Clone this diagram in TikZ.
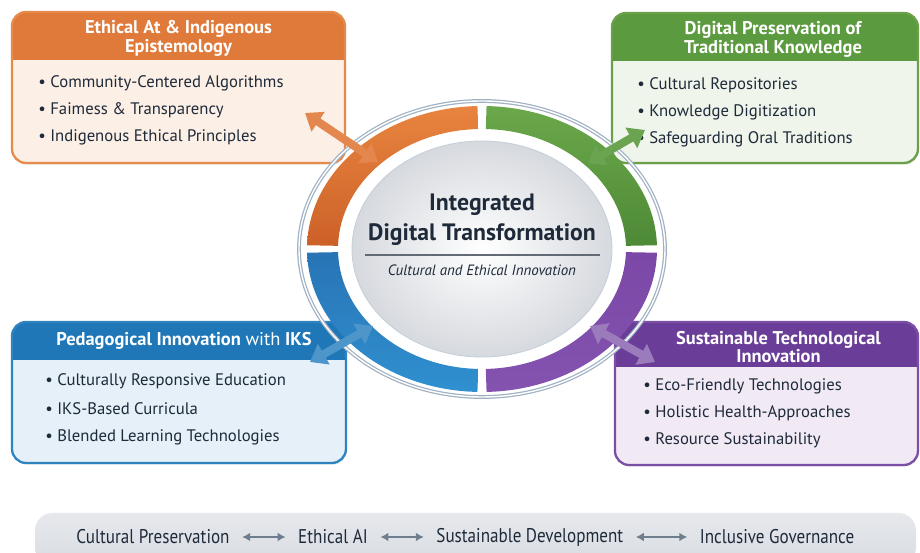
\documentclass[tikz,border=0pt]{standalone}
\usepackage{fontspec}
\setmainfont{PT Sans}
\newfontfamily\barfont[FakeStretch=0.86]{PT Sans}
\usetikzlibrary{positioning,calc,arrows.meta,shadows}

\definecolor{ink}{HTML}{1E2A3A}
\definecolor{orghd}{HTML}{E07A3A}
\definecolor{orgbg}{HTML}{FCEFE5}
\definecolor{orgln}{HTML}{E58A4A}
\definecolor{grnhd}{HTML}{5B9A3E}
\definecolor{grnbg}{HTML}{EFF5EA}
\definecolor{grnln}{HTML}{6AA04A}
\definecolor{bluhd}{HTML}{1F77B7}
\definecolor{blubg}{HTML}{E6F0F8}
\definecolor{bluln}{HTML}{2F84C0}
\definecolor{purhd}{HTML}{6A3E98}
\definecolor{purbg}{HTML}{F1EAF4}
\definecolor{purln}{HTML}{7A4FA5}
\definecolor{ringln}{HTML}{9FB0C2}
\definecolor{disc}{HTML}{D6D9DE}
\definecolor{barhi}{HTML}{E6E8EC}
\definecolor{barlo}{HTML}{D8DCE1}
\definecolor{barar}{HTML}{6F7E8E}

\begin{document}
\begin{tikzpicture}[x=0.02cm, y=0.02cm, text=ink,
    font=\fontsize{9.5}{11}\selectfont,
    panel/.style={rounded corners=8pt, outer sep=0pt, inner sep=0pt,
      anchor=north west,
      drop shadow={opacity=0.18, shadow xshift=0.6pt, shadow yshift=-1pt}},
    frame/.style={draw=#1, line width=1.3pt, rounded corners=8pt},
    title/.style={text=white, align=center,
      font=\bfseries\fontsize{10.5}{10.8}\selectfont},
    item/.style={anchor=west, inner sep=0pt},
    link/.style={draw=#1, line width=4.6pt,
      {Triangle[width=13pt,length=9pt]}-{Triangle[width=13pt,length=9pt]}},
    bar/.style={inner sep=0pt, font=\barfont\fontsize{11.3}{13}\selectfont,
      text=ink},
    bararrow/.style={draw=barar, line width=1.2pt, shorten <=7pt,
      shorten >=7pt, {Latex[length=4.5pt,width=5pt]}-{Latex[length=4.5pt,width=5pt]}},
    node distance=1.36cm]
  \useasboundingbox (0,0) rectangle (920,553);

  % --- the four panels ---
  \node[panel, fill=orgbg, minimum width=6.66cm, minimum height=3.02cm]
    (eth) at (12,541) {};
  \begin{scope}
    \clip[rounded corners=8pt] (eth.south west) rectangle (eth.north east);
    \fill[orghd] (eth.north west) rectangle ($(eth.north east)+(0,-48)$);
  \end{scope}
  \draw[frame=orgln] (eth.south west) rectangle (eth.north east);
  \node[title] (eth-t) at ($(eth.north)+(0,-26)$)
    {Ethical At \& Indigenous\\Epistemology};
  \node[item] (eth-1) at (38,470) {\textbullet\ Community-Centered Algorithms};
  \node[item, below=0.54cm of eth-1.west, anchor=west] (eth-2)
    {\textbullet\ Faimess \& Transparency};
  \node[item, below=0.54cm of eth-2.west, anchor=west] (eth-3)
    {\textbullet\ Indigenous Ethical Principles};

  \node[panel, fill=grnbg, minimum width=6.12cm, minimum height=3.0cm]
    (pres) at (612,540) {};
  \begin{scope}
    \clip[rounded corners=8pt] (pres.south west) rectangle (pres.north east);
    \fill[grnhd] (pres.north west) rectangle ($(pres.north east)+(0,-48)$);
  \end{scope}
  \draw[frame=grnln] (pres.south west) rectangle (pres.north east);
  \node[title] (pres-t) at ($(pres.north)+(8,-26)$)
    {Digital Preservation of\\Traditional Knowledge};
  \node[item] (pres-1) at (637,468) {\textbullet\ Cultural Repositories};
  \node[item, below=0.54cm of pres-1.west, anchor=west] (pres-2)
    {\textbullet\ Knowledge Digitization};
  \node[item, below=0.54cm of pres-2.west, anchor=west] (pres-3)
    {\textbullet\ Safeguarding Oral Traditions};

  \node[panel, fill=blubg, minimum width=6.68cm, minimum height=2.82cm]
    (ped) at (12,231) {};
  \begin{scope}
    \clip[rounded corners=8pt] (ped.south west) rectangle (ped.north east);
    \fill[bluhd] (ped.north west) rectangle ($(ped.north east)+(0,-38)$);
  \end{scope}
  \draw[frame=bluln] (ped.south west) rectangle (ped.north east);
  \node[title] (ped-t) at ($(ped.north)+(5,-19)$)
    {Pedagogical Innovation {\mdseries with} IKS};
  \node[item] (ped-1) at (45,172) {\textbullet\ Culturally Responsive Education};
  \node[item, below=0.56cm of ped-1.west, anchor=west] (ped-2)
    {\textbullet\ IKS-Based Curricula};
  \node[item, below=0.56cm of ped-2.west, anchor=west] (ped-3)
    {\textbullet\ Blended Learning Technologies};

  \node[panel, fill=purbg, minimum width=6.06cm, minimum height=2.86cm]
    (sus) at (615,231) {};
  \begin{scope}
    \clip[rounded corners=8pt] (sus.south west) rectangle (sus.north east);
    \fill[purhd] (sus.north west) rectangle ($(sus.north east)+(0,-45)$);
  \end{scope}
  \draw[frame=purln] (sus.south west) rectangle (sus.north east);
  \node[title, font=\bfseries\fontsize{10.5}{9.5}\selectfont] (sus-t)
    at ($(sus.north)+(12,-25)$) {Sustainable Technological\\Innovation};
  \node[item] (sus-1) at (643,167) {\textbullet\ Eco-Friendly Technologies};
  \node[item, below=0.54cm of sus-1.west, anchor=west] (sus-2)
    {\textbullet\ Holistic Health-Approaches};
  \node[item, below=0.54cm of sus-2.west, anchor=west] (sus-3)
    {\textbullet\ Resource Sustainability};

  % --- central ring ---
  \coordinate (c) at (482,304);
  \draw[draw=ringln, line width=0.7pt, double=white, double distance=0.8pt]
    (c) ellipse[x radius=183, y radius=148];
  \foreach \a/\b/\hi/\lo in {91.5/178.5/E8843F/CC6128,
      1.5/88.5/6BA84B/4E8A36,
      181.5/268.5/2874B5/3090D0,
      271.5/358.5/7B48A7/8452AF} {
    \definecolor{seghi}{HTML}{\hi}
    \definecolor{seglo}{HTML}{\lo}
    \shade[top color=seghi, bottom color=seglo]
      ($(c)+(\a:175 and 143)$)
      arc[start angle=\a, end angle=\b, x radius=175, y radius=143]
      -- ($(c)+(\b:144 and 120)$)
      arc[start angle=\b, end angle=\a, x radius=144, y radius=120]
      -- cycle;
  }
  \shade[inner color=white, outer color=disc, draw=ringln!60, line width=0.5pt]
    (c) ellipse[x radius=130, y radius=108];
  \node[align=center, font=\bfseries\fontsize{13.5}{17}\selectfont] (core)
    at (482,333) {Integrated\\Digital Transformation};
  \draw[ink!70, line width=0.8pt] (365,298) -- (600,298);
  \node[font=\itshape\fontsize{8.5}{10}\selectfont] (core-s) at (482,283)
    {Cultural and Ethical Innovation};

  % --- links between panels and ring ---
  \coordinate (eth-a) at (305,440);  \coordinate (eth-b) at (378,391);
  \coordinate (pres-a) at (645,423); \coordinate (pres-b) at (588,390);
  \coordinate (ped-a) at (310,191);  \coordinate (ped-b) at (373,227);
  \coordinate (sus-a) at (655,191);  \coordinate (sus-b) at (590,227);
  \draw[link=orghd!90] (eth-a) -- (eth-b);
  \draw[link=grnhd!90!white] (pres-a) -- (pres-b);
  \draw[link=bluln!85!white] (ped-a) -- (ped-b);
  \draw[link=purln!75!white] (sus-a) -- (sus-b);

  % --- bottom band ---
  \shade[top color=barhi, bottom color=barlo, rounded corners=10pt]
    (35,-12) rectangle (916,40);
  \node[bar] (cult) at (153,16) {Cultural Preservation};
  \node[bar, right=of cult] (ai) {Ethical AI};
  \node[bar, right=of ai] (dev) {Sustainable Development};
  \node[bar, right=1.52cm of dev] (gov) {Inclusive Governance};
  \draw[bararrow] (cult) -- (ai);
  \draw[bararrow] (ai) -- (dev);
  \draw[bararrow] (dev) -- (gov);
\end{tikzpicture}
\end{document}
